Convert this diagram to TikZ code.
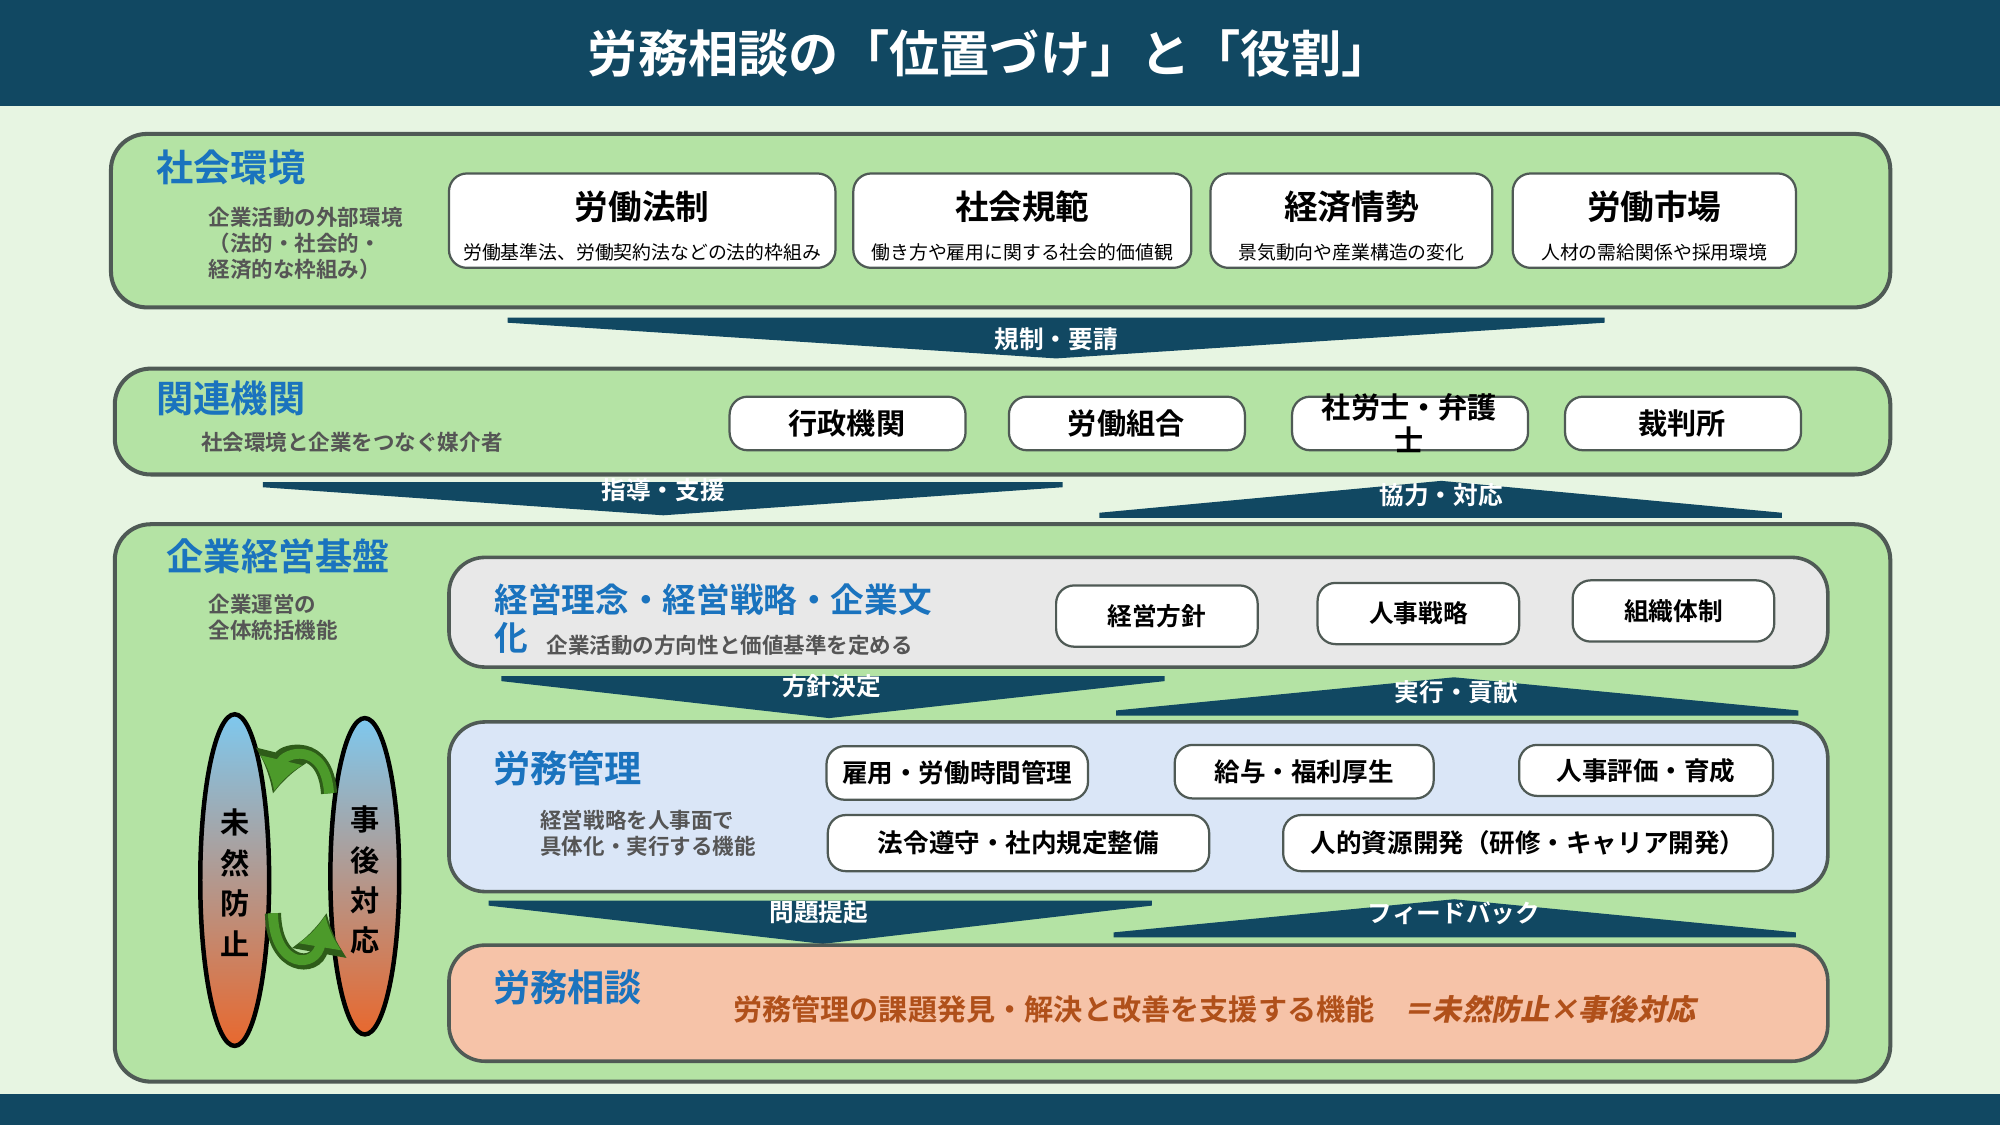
\documentclass[tikz,border=0pt]{standalone}
\usepackage{fontspec}
\setmainfont{Noto Sans CJK JP}[BoldFont={Noto Sans CJK JP Bold}]
\newfontfamily\jpslant{Noto Sans CJK JP Bold}[FakeSlant=0.2]
\usetikzlibrary{positioning,arrows.meta}
\definecolor{navy}{HTML}{114862}
\definecolor{pagebg}{HTML}{E7F5E2}
\definecolor{panel}{HTML}{B4E3A4}
\definecolor{edge}{HTML}{4F5A55}
\definecolor{headblue}{HTML}{1A73BE}
\definecolor{subgray}{HTML}{555555}
\definecolor{mgmt}{HTML}{DAE6F7}
\definecolor{consult}{HTML}{F6C3A8}
\definecolor{consulttxt}{HTML}{B0501A}
\definecolor{loopgreen}{HTML}{4C9A2A}
\definecolor{skytop}{HTML}{7EC8EE}
\definecolor{orangebot}{HTML}{E8682E}
\tikzset{
  panelbox/.style={draw=edge,line width=0.9pt,rounded corners=8pt,fill=panel},
  innerbox/.style={draw=edge,line width=0.8pt,rounded corners=8pt},
  itembox/.style={draw=edge,line width=0.5pt,rounded corners=4pt,fill=white},
  headtxt/.style={text=headblue,font=\bfseries\fontsize{8.3}{9}\selectfont,anchor=west,inner sep=0pt},
  subtxt/.style={text=subgray,font=\bfseries\fontsize{4.8}{5.8}\selectfont,anchor=west,align=left,inner sep=0pt},
  chevtxt/.style={text=white,font=\bfseries\fontsize{5.5}{6}\selectfont,inner sep=0pt},
  itemtxt/.style={font=\bfseries\fontsize{6.5}{7}\selectfont,inner sep=0pt},
  loopoval/.style={top color=skytop,middle color=gray!10,bottom color=orangebot,draw=black,line width=1pt},
}
\newcommand\chevdn[5]{\fill[navy] (#1,#4) -- (#2,#4) -- (#2,#4+4) -- (#3,#5) -- (#1,#4+4) -- cycle;}
\newcommand\chevup[5]{\fill[navy] (#1,#4) -- (#2,#4) -- (#2,#4-4) -- (#3,#5) -- (#1,#4-4) -- cycle;}
\begin{document}
\begin{tikzpicture}[x=0.01cm,y=-0.01cm]
\useasboundingbox (0,0) rectangle (1568,882);
\fill[pagebg] (0,0) rectangle (1568,882);
% title and footer bars
\fill[navy] (0,0) rectangle (1568,83);
\fill[navy] (0,858) rectangle (1568,882);
\node[text=white,font=\bfseries\fontsize{11.2}{12}\selectfont] (title) at (776,42) {労務相談の「位置づけ」と「役割」};

% social environment
\draw[panelbox] (87,105) rectangle (1482,241);
\node[headtxt] (envhead) at (122,131) {社会環境};
\node[subtxt] (envsub) at (163,191) {企業活動の外部環境\\（法的・社会的・\\経済的な枠組み）};
\foreach \xa/\xb/\name/\detail [count=\i] in {352/655/労働法制/労働基準法、労働契約法などの法的枠組み,
    669/934/社会規範/働き方や雇用に関する社会的価値観,
    949/1170/経済情勢/景気動向や産業構造の変化,
    1186/1408/労働市場/人材の需給関係や採用環境}{
  \draw[itembox] (\xa,136) rectangle (\xb,210);
  \node[font=\bfseries\fontsize{7.5}{8}\selectfont,inner sep=0pt] (env\i) at ({(\xa+\xb)/2},162) {\name};
  \node[font=\fontsize{4.2}{4.5}\selectfont,inner sep=0pt] (envd\i) at ({(\xa+\xb)/2},198) {\detail};
}
\chevdn{398}{1258}{828}{249}{281}
\node[chevtxt] (reg) at (828,266) {規制・要請};

% related organisations
\draw[panelbox] (90,289) rectangle (1482,372);
\node[headtxt] (orghead) at (122,312) {関連機関};
\node[subtxt] (orgsub) at (157,347) {社会環境と企業をつなぐ媒介者};
\foreach \xa/\name [count=\i] in {572/行政機関,791/労働組合,1227/裁判所}{
  \draw[itembox] (\xa,311) rectangle (\xa+185,353);
  \node[itemtxt] (org\i) at (\xa+92,332) {\name};
}
\draw[itembox] (1013,311) rectangle (1198,353);
\node[itemtxt,align=center,font=\bfseries\fontsize{6.5}{7.4}\selectfont] (orglaw) at (1105,332) {社労士・弁護\\士};
\chevdn{206}{833}{520}{378}{404}
\node[chevtxt] (guide) at (520,384) {指導・支援};
\chevup{862}{1397}{1130}{406}{377}
\node[chevtxt] (coop) at (1130,388) {協力・対応};

% corporate base
\draw[panelbox] (90,411) rectangle (1482,848);
\node[headtxt] (basehead) at (130,436) {企業経営基盤};
\node[subtxt] (basesub) at (163,484) {企業運営の\\全体統括機能};

\draw[innerbox,fill=gray!18] (352,437) rectangle (1433,523);
\node[headtxt,font=\bfseries\fontsize{7.5}{8}\selectfont] (philhead) at (387,470) {経営理念・経営戦略・企業文};
\node[headtxt,font=\bfseries\fontsize{7.5}{8}\selectfont] (philhead2) at (387,500) {化};
\node[subtxt] (philsub) at (428,506) {企業活動の方向性と価値基準を定める};
\foreach \xa/\ya/\name [count=\i] in {828/459/経営方針,1033/457/人事戦略,1233/455/組織体制}{
  \draw[itembox] (\xa,\ya) rectangle (\xa+158,\ya+48);
  \node[itemtxt,font=\bfseries\fontsize{5.5}{6}\selectfont] (phil\i) at (\xa+79,\ya+24) {\name};
}
\chevdn{393}{913}{650}{530}{563}
\node[chevtxt] (policy) at (652,538) {方針決定};
\chevup{875}{1410}{1140}{561}{531}
\node[chevtxt] (exec) at (1142,543) {実行・貢献};

% labour management
\draw[innerbox,fill=mgmt] (352,566) rectangle (1433,699);
\node[headtxt] (mgmthead) at (386,602) {労務管理};
\node[subtxt] (mgmtsub) at (423,653) {経営戦略を人事面で\\具体化・実行する機能};
\foreach \xa/\xb/\ya/\yb/\name [count=\i] in {648/853/585/627/雇用・労働時間管理,921/1124/584/626/給与・福利厚生,
    1191/1390/584/624/人事評価・育成,649/948/639/683/法令遵守・社内規定整備,
    1006/1390/639/683/人的資源開発（研修・キャリア開発）}{
  \draw[itembox] (\xa,\ya) rectangle (\xb,\yb);
  \node[itemtxt,font=\bfseries\fontsize{5.7}{6}\selectfont] (mgmt\i) at ({(\xa+\xb)/2},{(\ya+\yb)/2}) {\name};
}
\chevdn{383}{903}{645}{706}{740}
\node[chevtxt] (issue) at (642,715) {問題提起};
\chevup{873}{1408}{1140}{735}{705}
\node[chevtxt] (feedback) at (1140,716) {フィードバック};

% labour consultation
\draw[innerbox,fill=consult] (352,741) rectangle (1433,832);
\node[headtxt] (conshead) at (386,774) {労務相談};
\node[text=consulttxt,font=\bfseries\fontsize{6.5}{7}\selectfont,inner sep=0pt] (constxt) at (952,791)
  {労務管理の課題発見・解決と改善を支援する機能\quad{\jpslant ＝未然防止×事後対応}};

% prevention / response loop
\shade[loopoval] (184,690) ellipse (27 and 130);
\shade[loopoval] (286,687) ellipse (27 and 124);
\node[font=\bfseries\fontsize{6.5}{9}\selectfont,align=center] (prevent) at (184,692) {未\\然\\防\\止};
\node[font=\bfseries\fontsize{6.5}{9}\selectfont,align=center] (respond) at (286,690) {事\\後\\対\\応};
\draw[loopgreen!60!black,line width=3.6pt,-{Latex[length=9pt,width=13pt]}] (258,622) .. controls (255,580) and (222,590) .. (214,622);
\draw[loopgreen,line width=2.2pt,-{Latex[length=7pt,width=10pt]}] (258,622) .. controls (255,580) and (222,590) .. (215,620);
\draw[loopgreen!60!black,line width=3.6pt,-{Latex[length=9pt,width=13pt]}] (214,716) .. controls (215,760) and (248,760) .. (256,716);
\draw[loopgreen,line width=2.2pt,-{Latex[length=7pt,width=10pt]}] (214,716) .. controls (215,760) and (248,760) .. (255,718);
\end{tikzpicture}
\end{document}
